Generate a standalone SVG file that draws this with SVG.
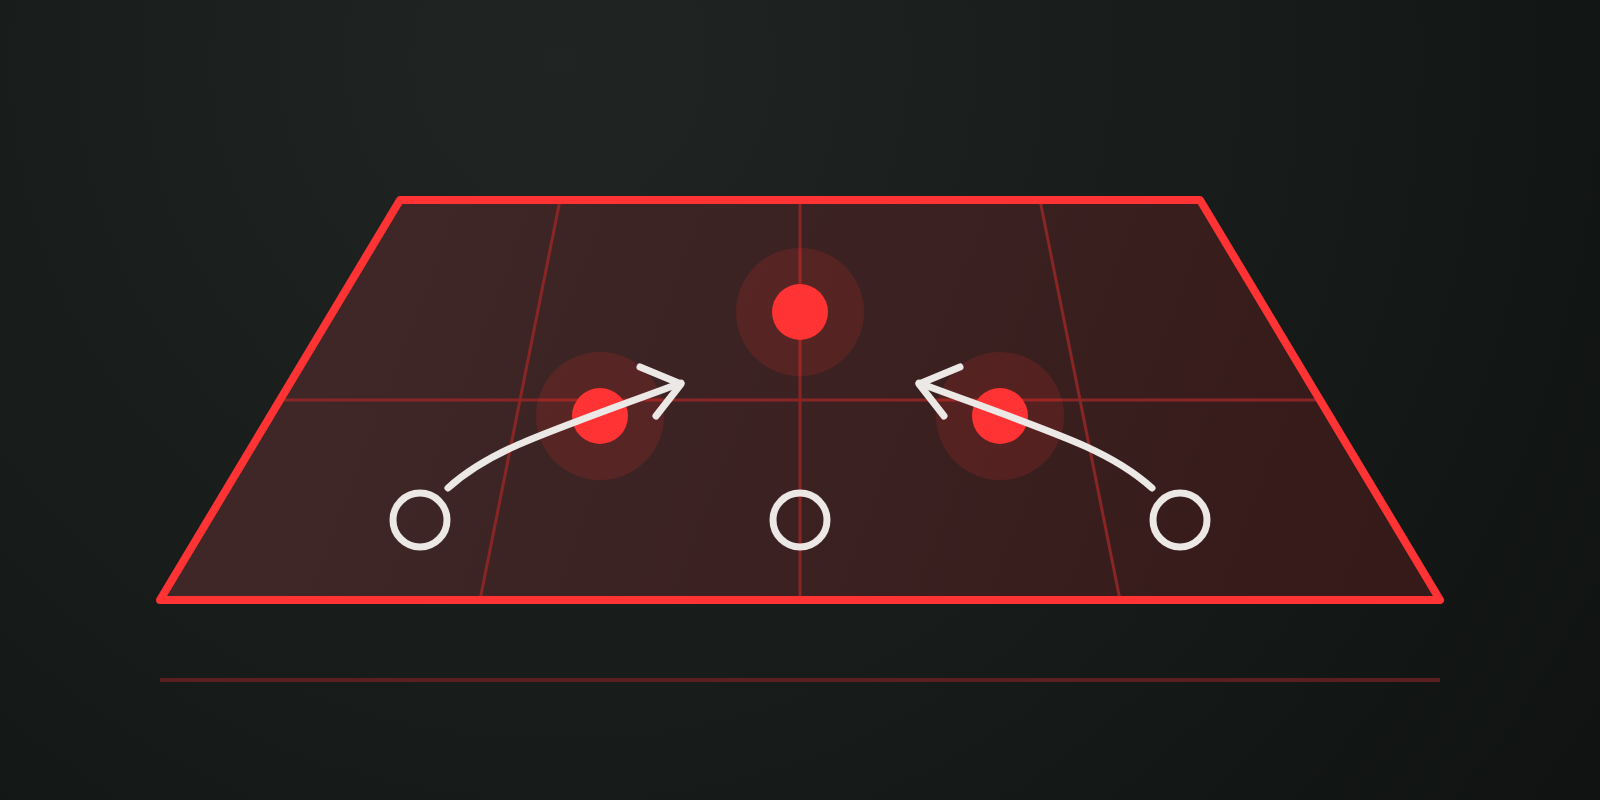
<svg xmlns="http://www.w3.org/2000/svg" width="1600" height="800" viewBox="0 0 1600 800">
<defs>
<radialGradient id="bg" cx="560" cy="60" r="1300" gradientUnits="userSpaceOnUse">
<stop offset="0" stop-color="#202523"/>
<stop offset="1" stop-color="#0f1211"/>
</radialGradient>
<linearGradient id="field" x1="400" y1="200" x2="1440" y2="600" gradientUnits="userSpaceOnUse">
<stop offset="0" stop-color="#3f2727"/>
<stop offset="1" stop-color="#361919"/>
</linearGradient>
<style>
.grid{stroke:#8a2525;stroke-width:3;fill:none}
.halo{fill:#ff3333;fill-opacity:0.14}
.dot{fill:#ff3333}
.ring{fill:none;stroke:#ebe8e6;stroke-width:7}
.arrow{fill:none;stroke:#ebe8e6;stroke-width:7;stroke-linecap:round;stroke-linejoin:round}
</style>
</defs>
<rect width="1600" height="800" fill="url(#bg)"/>
<g id="field-area">
<polygon points="400,200 1200,200 1440,600 160,600" fill="url(#field)"/>
<line class="grid" x1="280" y1="400" x2="1320" y2="400"/>
<line class="grid" x1="800" y1="200" x2="800" y2="600"/>
<line class="grid" x1="560" y1="200" x2="480" y2="600"/>
<line class="grid" x1="1040" y1="200" x2="1120" y2="600"/>
<polygon points="400,200 1200,200 1440,600 160,600" fill="none" stroke="#ff3333" stroke-width="8" stroke-linejoin="round"/>
<line x1="160" y1="680" x2="1440" y2="680" stroke="#5c1f1f" stroke-width="4"/>
</g>
<g id="target-left"><circle class="halo" cx="600" cy="416" r="64"/><circle class="dot" cx="600" cy="416" r="28"/></g>
<g id="target-center"><circle class="halo" cx="800" cy="312" r="64"/><circle class="dot" cx="800" cy="312" r="28"/></g>
<g id="target-right"><circle class="halo" cx="1000" cy="416" r="64"/><circle class="dot" cx="1000" cy="416" r="28"/></g>
<g id="player-left"><circle class="ring" cx="420" cy="520" r="27"/></g>
<g id="player-center"><circle class="ring" cx="800" cy="520" r="27"/></g>
<g id="player-right"><circle class="ring" cx="1180" cy="520" r="27"/></g>
<g id="connectors">
<path class="arrow" d="M448,488 C490,450 540,435 681,383"/>
<path class="arrow" d="M640,367 L681,384 L656,416"/>
<path class="arrow" d="M1152,488 C1110,450 1060,435 919,383"/>
<path class="arrow" d="M960,367 L919,384 L944,416"/>
</g>
</svg>
